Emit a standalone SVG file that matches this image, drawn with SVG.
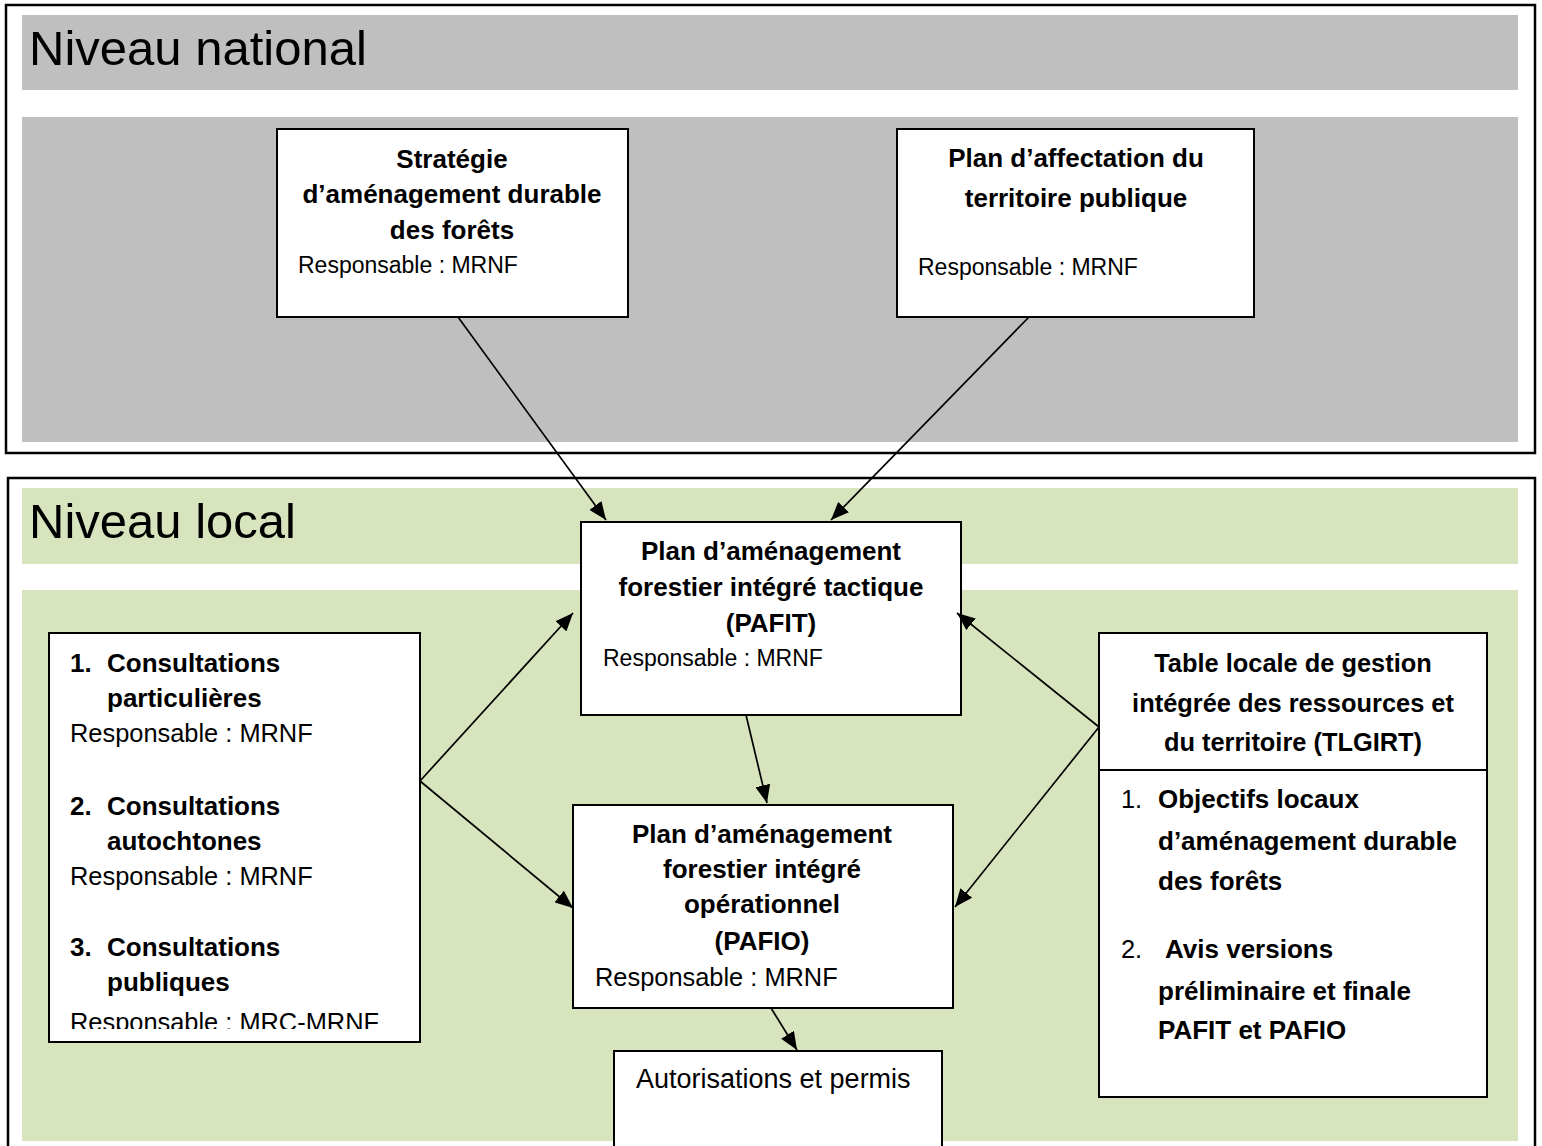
<svg xmlns="http://www.w3.org/2000/svg" width="1542" height="1146" viewBox="0 0 1542 1146">
<style>
text{font-family:"Liberation Sans",Arial,sans-serif;fill:#000}
.h{font-size:49px}
.b{font-size:26px;font-weight:bold}
.bc{font-size:26px;font-weight:bold;text-anchor:middle}
.bt{font-size:25.4px;font-weight:bold;text-anchor:middle}
.r{font-size:23px}
.rl{font-size:25.4px}
.frame{fill:none;stroke:#000;stroke-width:2.5}
.box{fill:#fff;stroke:#000;stroke-width:2}
.gray{fill:#BFBFBF}
.green{fill:#D7E4BD}
.conn line{stroke:#000;stroke-width:1.7;marker-end:url(#ah)}
</style>
<defs>
<marker id="ah" markerUnits="userSpaceOnUse" markerWidth="18" markerHeight="15" viewBox="0 0 18 15" refX="18" refY="7.5" orient="auto">
<path d="M0,0 L18,7.5 L0,15 z" fill="#000"/>
</marker>
<clipPath id="clipLeft"><rect x="49" y="633" width="371" height="396"/></clipPath>
</defs>
<rect width="1542" height="1146" fill="#fff"/>

<g id="national">
<rect class="frame" x="6" y="5" width="1529" height="448"/>
<rect class="gray" x="22" y="15" width="1496" height="75"/>
<rect class="gray" x="22" y="117" width="1496" height="325"/>
<text class="h" x="29" y="65">Niveau national</text>
</g>

<g id="local">
<rect class="frame" x="8" y="478" width="1527" height="720"/>
<rect class="green" x="22" y="488" width="1496" height="76"/>
<rect class="green" x="22" y="590" width="1496" height="551"/>
<text class="h" x="29" y="538">Niveau local</text>
</g>

<g id="strategie">
<rect class="box" x="277" y="129" width="351" height="188"/>
<text class="bc" x="452" y="168">Stratégie</text>
<text class="bc" x="452" y="203">d’aménagement durable</text>
<text class="bc" x="452" y="239">des forêts</text>
<text class="r" x="298" y="273">Responsable : MRNF</text>
</g>

<g id="affectation">
<rect class="box" x="897" y="129" width="357" height="188"/>
<text class="bc" x="1076" y="167">Plan d’affectation du</text>
<text class="bc" x="1076" y="207">territoire publique</text>
<text class="r" x="918" y="275">Responsable : MRNF</text>
</g>

<g id="pafit">
<rect class="box" x="581" y="522" width="380" height="193"/>
<text class="bc" x="771" y="560">Plan d’aménagement</text>
<text class="bc" x="771" y="596">forestier intégré tactique</text>
<text class="bc" x="771" y="632">(PAFIT)</text>
<text class="r" x="603" y="666">Responsable : MRNF</text>
</g>

<g id="pafio">
<rect class="box" x="573" y="805" width="380" height="203"/>
<text class="bc" x="762" y="843">Plan d’aménagement</text>
<text class="bc" x="762" y="878">forestier intégré</text>
<text class="bc" x="762" y="913">opérationnel</text>
<text class="bc" x="762" y="950">(PAFIO)</text>
<text class="rl" x="595" y="986">Responsable : MRNF</text>
</g>

<g id="autorisations">
<rect class="box" x="614" y="1051" width="328" height="120"/>
<text x="636" y="1088" style="font-size:27px">Autorisations et permis</text>
</g>

<g id="consultations">
<rect class="box" x="49" y="633" width="371" height="409"/>
<g clip-path="url(#clipLeft)">
<text class="b" x="70" y="672">1.</text>
<text class="b" x="107" y="672">Consultations</text>
<text class="b" x="107" y="707">particulières</text>
<text class="rl" x="70" y="742">Responsable : MRNF</text>
<text class="b" x="70" y="815">2.</text>
<text class="b" x="107" y="815">Consultations</text>
<text class="b" x="107" y="850">autochtones</text>
<text class="rl" x="70" y="885">Responsable : MRNF</text>
<text class="b" x="70" y="956">3.</text>
<text class="b" x="107" y="956">Consultations</text>
<text class="b" x="107" y="991">publiques</text>
<text class="rl" x="70" y="1031">Responsable : MRC-MRNF</text>
</g>
</g>

<g id="tlgirt">
<rect class="box" x="1099" y="633" width="388" height="464"/>
<line x1="1099" y1="770" x2="1487" y2="770" stroke="#000" stroke-width="2"/>
<text class="bt" x="1293" y="672">Table locale de gestion</text>
<text class="bt" x="1293" y="712">intégrée des ressources et</text>
<text class="bt" x="1293" y="751">du territoire (TLGIRT)</text>
<text class="rl" x="1121" y="808">1.</text>
<text class="b" x="1158" y="808">Objectifs locaux</text>
<text class="b" x="1158" y="850">d’aménagement durable</text>
<text class="b" x="1158" y="890">des forêts</text>
<text class="rl" x="1121" y="958">2.</text>
<text class="b" x="1165" y="958">Avis versions</text>
<text class="b" x="1158" y="1000">préliminaire et finale</text>
<text class="b" x="1158" y="1039">PAFIT et PAFIO</text>
</g>

<g id="connectors" class="conn">
<line x1="458" y1="317" x2="606" y2="520"/>
<line x1="1029" y1="317" x2="831" y2="520"/>
<line x1="420" y1="781" x2="573" y2="613"/>
<line x1="420" y1="781" x2="573" y2="908"/>
<line x1="1099" y1="727" x2="957" y2="613"/>
<line x1="1099" y1="727" x2="955" y2="907"/>
<line x1="746" y1="715" x2="767" y2="803"/>
<line x1="771" y1="1008" x2="797" y2="1050"/>
</g>
</svg>
